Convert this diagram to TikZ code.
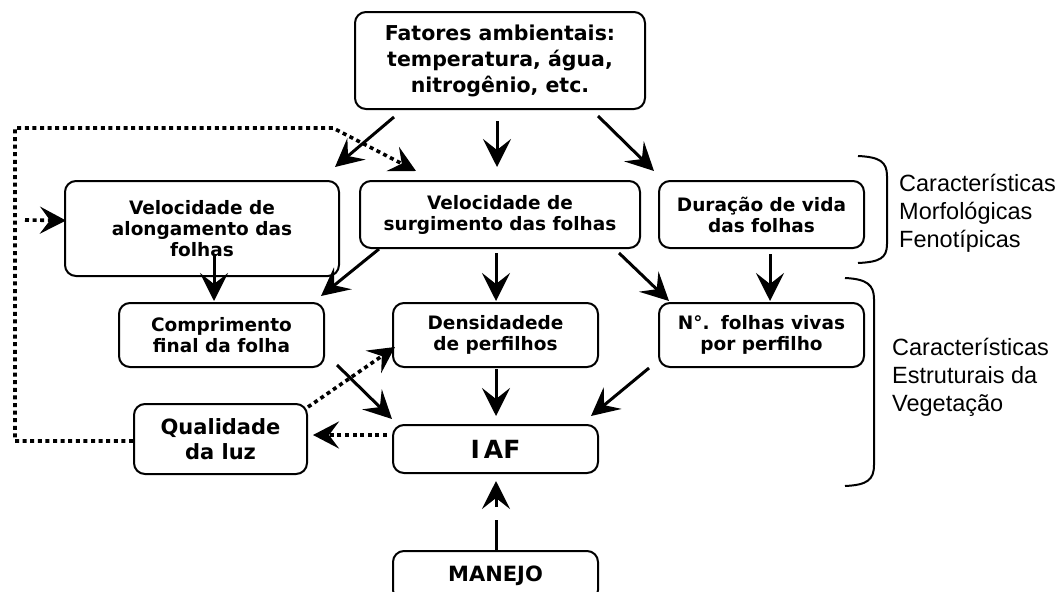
\documentclass[tikz,border=0pt]{standalone}
\usepackage{fontspec}
\setmainfont{DejaVu Sans}
\newfontfamily\armain{Liberation Sans}
\usetikzlibrary{arrows.meta,calc}
\begin{document}
\begin{tikzpicture}[x=1pt,y=-1pt,
  box/.style={draw,line width=2pt,rounded corners=11pt,align=center,inner sep=0pt,font=\bfseries\fontsize{18.5}{21}\selectfont},
  arr/.style={line width=3pt,-{Stealth[length=28pt,width=28pt,inset=11pt]}},
  dot/.style={line width=3.6pt,dash pattern=on 4pt off 3.6pt},
  darr/.style={dot,-{Stealth[length=26pt,width=27pt,inset=10pt]}},
  lab/.style={anchor=west,align=left,inner sep=0pt,font=\armain\fontsize{23.5}{28}\selectfont},
  brace/.style={line width=2pt}]
\useasboundingbox (0,0) rectangle (1061,592);
\clip (0,0) rectangle (1061,592);
% boxes
\node[box,minimum width=290pt,minimum height=97pt,font=\bfseries\fontsize{20.5}{26}\selectfont] (fat) at (500,60.5) {Fatores ambientais:\\temperatura, água,\\nitrogênio, etc.};
\node[box,minimum width=274pt,minimum height=95pt] (alo) at (202,228.5) {Velocidade de\\alongamento das\\folhas};
\node[box,minimum width=280pt,minimum height=67pt] (sur) at (500,214.5) {Velocidade de\\surgimento das folhas};
\node[box,minimum width=205pt,minimum height=67pt] (dur) at (761.5,214.5) {Duração de vida\\das folhas};
\node[box,minimum width=205pt,minimum height=64pt] (com) at (221.5,335) {Comprimento\\final da folha};
\node[box,minimum width=205pt,minimum height=64pt] (den) at (495.5,335) {Densidadede\\de perfilhos};
\node[box,minimum width=205pt,minimum height=64pt] (nfo) at (761.5,335) {N°.\hspace{0.6em}folhas vivas\\por perfilho};
\node[box,minimum width=173pt,minimum height=70pt,font=\bfseries\fontsize{21}{25}\selectfont] (qua) at (220.5,439) {Qualidade\\da luz};
\node[box,minimum width=205pt,minimum height=48pt,font=\bfseries\fontsize{25}{30}\selectfont] (iaf) at (495.5,449) {I\kern4pt AF};
\node[box,minimum width=205pt,minimum height=50pt,font=\bfseries\fontsize{21}{25}\selectfont] (man) at (495.5,576) {MANEJO};
% coordinates for the feedback loop
\coordinate (loopbl) at (15,441);
\coordinate (looptl) at (15,128);
\coordinate (looptr) at (333,128);
\coordinate (inL) at (25,220);
% solid arrows
\draw[arr] ($(fat.south west)+(40,7)$) -- ($(alo.north east)+(-5,-13)$);
\draw[arr] ($(fat.south)+(-3,11)$) -- ($(sur.north)+(-3,-13)$);
\draw[arr] ($(fat.south east)+(-48,6)$) -- ($(dur.north west)+(-4,-9)$);
\draw[arr] ($(alo.south)+(12,-23)$) -- ($(com.north)+(-7.5,-1)$);
\draw[arr] ($(sur.south west)+(20,0)$) -- ($(com.north east)+(-4,-6)$);
\draw[arr] ($(sur.south)+(-4,4)$) -- ($(den.north)+(0.5,-1)$);
\draw[arr] ($(sur.south east)+(-22,4)$) -- ($(nfo.north west)+(11,-1)$);
\draw[arr] ($(dur.south)+(8.5,5)$) -- ($(nfo.north)+(8.5,-1)$);
\draw[arr] ($(nfo.south west)+(-9,0)$) -- ($(iaf.north east)+(-8,-8)$);
\draw[arr] ($(den.south)+(0.5,1)$) -- ($(iaf.north)+(0.5,-8)$);
\draw[arr] ($(com.south east)+(12,-3)$) -- ($(iaf.north west)+(0,-5)$);
\draw[arr,dash pattern=on 30pt off 13pt on 60pt] ($(man.north)+(0.5,0)$) -- ($(iaf.south)+(0.5,7)$);
% dotted arrows
\draw[darr] ($(qua.west)+(0,2)$) -- (loopbl) -- (looptl) -- (looptr) -- ($(sur.north west)+(57,-9)$);
\draw[darr] (inL) -- ($(alo.west)+(2,-8)$);
\draw[darr] ($(qua.north east)+(0,4)$) -- ($(den.west)+(3,12)$);
\draw[darr] ($(iaf.west)+(-5,-14)$) -- ($(qua.east)+(5,-4)$);
% braces
\draw[brace] (858,156) .. controls (880,157) and (887,162) .. (887,176) -- (887,244) .. controls (887,258) and (880,262) .. (858,263);
\draw[brace] (845,278) .. controls (867,279) and (874,285) .. (874,299) -- (874,465) .. controls (874,480) and (867,485) .. (845,486);
% labels
\node[lab] (lab1) at (899,213) {Características\\Morfológicas\\Fenotípicas};
\node[lab] (lab2) at (892,377) {Características\\Estruturais da\\Vegetação};
\end{tikzpicture}
\end{document}
